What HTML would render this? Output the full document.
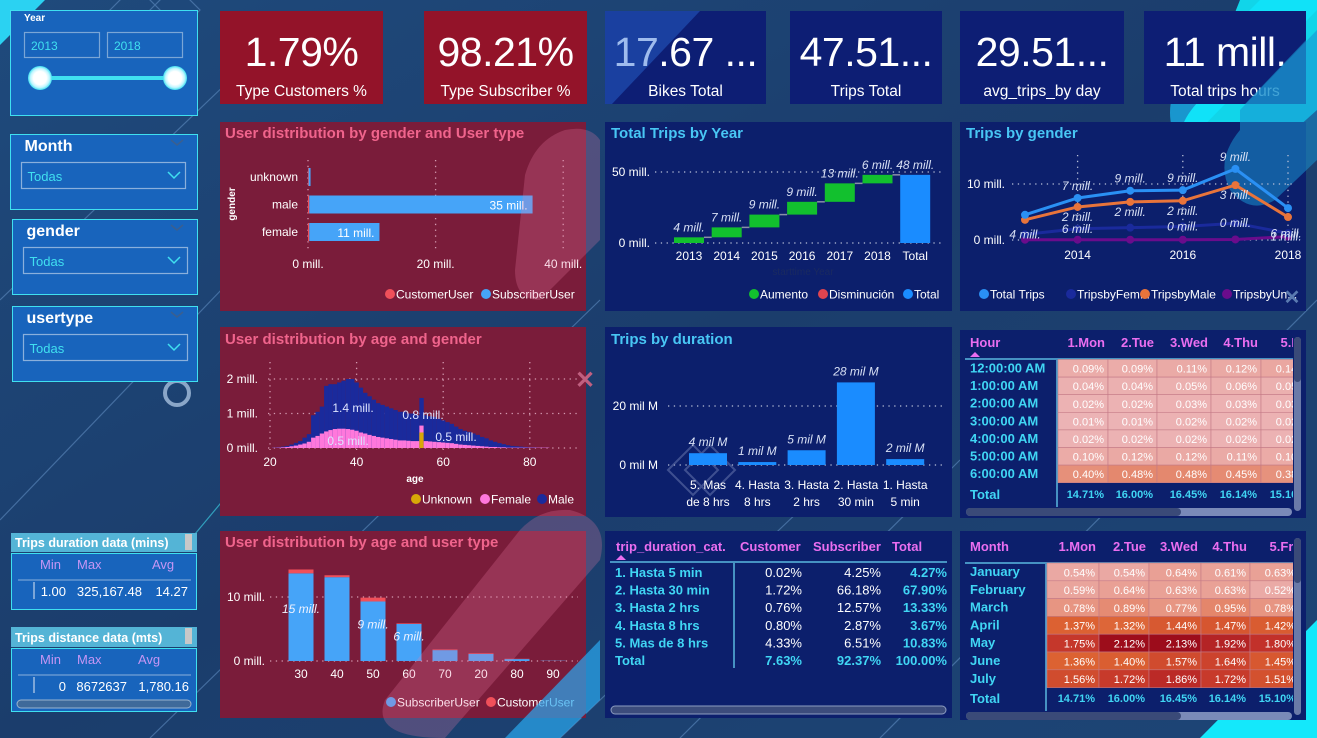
<!DOCTYPE html>
<html><head><meta charset="utf-8">
<style>
html,body{margin:0;padding:0;width:1317px;height:738px;overflow:hidden;background:#1c4170;font-family:"Liberation Sans",sans-serif}
svg{position:absolute;left:0;top:0}
text{font-family:"Liberation Sans",sans-serif}
</style></head>
<body>
<svg id="main" width="1317" height="738" viewBox="0 0 1317 738" xmlns="http://www.w3.org/2000/svg">
<defs>
<linearGradient id="bg" x1="0" y1="0" x2="1" y2="1"><stop offset="0" stop-color="#1f4a7c"/><stop offset="0.5" stop-color="#1b3d6c"/><stop offset="1" stop-color="#1d4576"/></linearGradient>
<radialGradient id="knob"><stop offset="0.55" stop-color="#ffffff"/><stop offset="0.8" stop-color="#bff6ff"/><stop offset="1" stop-color="#3fe0f0"/></radialGradient>
</defs>
<rect width="1317" height="738" fill="url(#bg)"/>
<g stroke="#5f8cc0" stroke-width="1.2" opacity="0.6" fill="none">
<line x1="0" y1="300" x2="230" y2="80"/><line x1="0" y1="520" x2="250" y2="260"/><line x1="150" y1="738" x2="600" y2="300"/>
<line x1="560" y1="738" x2="800" y2="510"/><line x1="680" y1="738" x2="960" y2="460"/><line x1="880" y1="738" x2="1317" y2="300"/>
<line x1="190" y1="540" x2="240" y2="480" stroke="#40e0f0"/>
<path d="M110 10 L135 -15 L160 10 L135 35 Z M150 10 L175 -15 L200 10 L175 35 Z"/>
</g>
<polygon points="0,0 45,0 0,45" fill="#2bd2f2"/>
<path d="M1180 150 L1317 10 L1317 0 L1260 0 L1180 80 Q1160 110 1180 150 Z" fill="#19a0d8" opacity="0.9"/>
<path d="M1240 0 L1317 0 L1317 110 L1250 170 Q1215 190 1185 160 Q1170 130 1200 100 Z" fill="#0ff0ff" opacity="0.85"/>
<path d="M1317 620 L1317 738 L1200 738 Z" fill="#14e8fb"/>
<circle cx="177" cy="393" r="12" fill="none" stroke="#8aa6c8" stroke-width="4"/>

<g>
<rect x="10.5" y="10.5" width="187" height="105" fill="#1864bc" stroke="#3fe0f0"/>
<text x="24" y="21" fill="#fff" font-size="10" font-weight="bold">Year</text>
<rect x="24.5" y="32.5" width="75" height="25" fill="none" stroke="#7aa6d6" stroke-width="1.2"/>
<text x="31" y="50" fill="#40e0f0" font-size="12">2013</text>
<rect x="107.5" y="32.5" width="75" height="25" fill="none" stroke="#7aa6d6" stroke-width="1.2"/>
<text x="114" y="50" fill="#40e0f0" font-size="12">2018</text>
<line x1="40" y1="78" x2="175" y2="78" stroke="#40e0f0" stroke-width="4"/>
<circle cx="40" cy="78" r="12" fill="url(#knob)"/>
<circle cx="175" cy="78" r="12" fill="url(#knob)"/>
</g>
<g id="slicers"></g>

<g>
<rect x="11" y="533" width="186" height="19" fill="#54b4d6"/>
<rect x="185" y="534" width="7" height="16" fill="#c8c8c8"/>
<text x="15" y="547" fill="#fff" font-size="12.5" font-weight="bold">Trips duration data (mins)</text>
<rect x="11.5" y="553.5" width="185" height="56" fill="#1864bc" stroke="#3fe0f0"/>
<text x="40" y="569" fill="#c596f4" font-size="13">Min</text><text x="77" y="569" fill="#c596f4" font-size="13">Max</text><text x="152" y="569" fill="#c596f4" font-size="13">Avg</text>
<line x1="18" y1="580" x2="191" y2="580" stroke="#8ab0dc"/><line x1="34" y1="582" x2="34" y2="599" stroke="#dfe8f5"/>
<text x="66" y="596" fill="#fff" font-size="13" text-anchor="end">1.00</text><text x="142" y="596" fill="#fff" font-size="13" text-anchor="end">325,167.48</text><text x="188" y="596" fill="#fff" font-size="13" text-anchor="end">14.27</text>
</g>
<g>
<rect x="11" y="627" width="186" height="20" fill="#54b4d6"/>
<rect x="185" y="628" width="7" height="16" fill="#c8c8c8"/>
<text x="15" y="642" fill="#fff" font-size="12.5" font-weight="bold">Trips distance data (mts)</text>
<rect x="11.5" y="648.5" width="185" height="63" fill="#1864bc" stroke="#3fe0f0"/>
<text x="40" y="664" fill="#c596f4" font-size="13">Min</text><text x="77" y="664" fill="#c596f4" font-size="13">Max</text><text x="138" y="664" fill="#c596f4" font-size="13">Avg</text>
<line x1="18" y1="675" x2="191" y2="675" stroke="#8ab0dc"/><line x1="34" y1="677" x2="34" y2="693" stroke="#dfe8f5"/>
<text x="66" y="691" fill="#fff" font-size="13" text-anchor="end">0</text><text x="127" y="691" fill="#fff" font-size="13" text-anchor="end">8672637</text><text x="189" y="691" fill="#fff" font-size="13" text-anchor="end">1,780.16</text>
<rect x="17" y="700" width="174" height="8" rx="4" fill="#3f6a9a" stroke="#9ab4d0"/>
</g>

<g id="cards"></g>

<g>
<rect x="220" y="122" width="366" height="189" fill="#7a1c3a"/>
<rect x="220" y="327" width="366" height="189" fill="#7a1c3a"/>
<rect x="220" y="531" width="366" height="187" fill="#7a1c3a"/>
<rect x="605" y="122" width="347" height="189" fill="#0c1f6c"/>
<rect x="605" y="327" width="347" height="190" fill="#0c1f6c"/>
<rect x="605" y="531" width="347" height="187" fill="#0c1f6c"/>
<rect x="960" y="122" width="346" height="189" fill="#0c1f6c"/>
<rect x="960" y="330" width="346" height="188" fill="#0c1f6c"/>
<rect x="960" y="531" width="346" height="189" fill="#0c1f6c"/>
</g>
<path d="M1240 110 L1317 30 L1317 160 L1275 200 Q1250 215 1230 190 Q1215 160 1240 130 Z" fill="#1a8fd0" opacity="0.55"/>
<g fill="#ffffff" font-size="15" font-weight="bold">
<text x="225" y="138" fill="#f0648c">User distribution by gender and User type</text>
<text x="225" y="344" fill="#f0648c">User distribution by age and gender</text>
<text x="225" y="547" fill="#f0648c">User distribution by age and user type</text>
<text x="611" y="138" fill="#48c6f4">Total Trips by Year</text>
<text x="611" y="344" fill="#48c6f4">Trips by duration</text>
<text x="966" y="138" fill="#48c6f4">Trips by gender</text>
</g>
<g id="charts"></g>
<g id="tables"></g>
<path d="M540 300 L600 240 L600 140 Q590 125 565 130 Q535 140 525 175 L515 270 Q515 300 540 300 Z" fill="#f07aa8" opacity="0.25"/>
<path d="M445 738 L600 560 Q610 520 570 510 Q540 508 520 530 L385 700 Q370 738 445 738 Z" fill="#f07aa8" opacity="0.25"/>
<path d="M505 738 L600 640 L600 700 L560 738 Z" fill="#2aa8f0" opacity="0.7"/>
<text x="585" y="388" font-size="24" fill="#c06080" text-anchor="middle" font-weight="bold">✕</text>
<text x="1292" y="304" font-size="20" fill="#5a7ab0" text-anchor="middle" font-weight="bold">✕</text>
</svg>
<script>
const NS='http://www.w3.org/2000/svg';
function mk(parent,tag,attrs,txt){const e=document.createElementNS(NS,tag);for(const k in attrs)e.setAttribute(k,attrs[k]);if(txt!==undefined)e.textContent=txt;parent.appendChild(e);return e;}
const charts=document.getElementById('charts');

const slicerNames=['Month','gender','usertype'];
const slicerTops=[134,219,306];
const sl=document.getElementById('slicers');
slicerNames.forEach((n,i)=>{
  const g=mk(sl,'g',{});
  
  
  const t=slicerTops[i], l=i==0?10.5:12.5;
  mk(g,'rect',{x:l,y:t+0.5,width:197.5-l,height:75,fill:'#1864bc',stroke:'#3fe0f0'});
  mk(g,'text',{x:l+14,y:t+17,fill:'#fff','font-size':16,'font-weight':'bold'},n);
  mk(g,'path',{d:`M${171} ${t+6} l6 5 l6 -5`,stroke:'#3a5f90',fill:'none','stroke-width':1.5});
  const dd=mk(g,'rect',{x:l+11,y:t+28.5,width:164,height:26,fill:'none',stroke:'#8ab0dc','stroke-width':1.2});
  
  
  mk(g,'text',{x:l+17,y:t+47,fill:'#40e0f0','font-size':13},'Todas');
  mk(g,'path',{d:`M${168} ${t+38} l6 6 l6 -6`,stroke:'#40e0f0',fill:'none','stroke-width':1.5});
});

const cardValues=['1.79%','98.21%','17.67 ...','47.51...','29.51...','11 mill.'];
const cardLabels=['Type Customers %','Type Subscriber %','Bikes Total','Trips Total','avg_trips_by day','Total trips hours'];
const cardX=[220,424,605,790,960,1144];
const cardW=[163,163,161,152,164,162];
const cg=document.getElementById('cards');
cardValues.forEach((v,i)=>{
  const g=mk(cg,'g',{});
  
  
  mk(g,'rect',{x:cardX[i],y:11,width:cardW[i],height:93,fill:i<2?'#931329':'#0d1e74'});
  const cx=cardX[i]+cardW[i]/2;
  mk(g,'text',{x:cx,y:66,fill:'#fff','font-size':41,'text-anchor':'middle','letter-spacing':'-0.5'},v);
  mk(g,'text',{x:cx,y:96,fill:'#fff','font-size':15.5,'text-anchor':'middle'},cardLabels[i]);
});
mk(cg,'path',{d:'M605 11 L700 11 L612 104 L605 104 Z',fill:'#2a6ad8',opacity:0.45});
mk(cg,'path',{d:'M1245 104 L1306 40 L1306 104 Z',fill:'#1590c8',opacity:0.6});

function dotLine(g,x1,y1,x2,y2,c){mk(g,'line',{x1,y1,x2,y2,stroke:c||'#b9c0d8','stroke-width':1.3,'stroke-dasharray':'1.3 4.5'});}
function legend(g,items,y){items.forEach(it=>{mk(g,'circle',{cx:it[0],cy:y-4,r:5,fill:it[2]});mk(g,'text',{x:it[0]+6,y:y+0.5,fill:'#fff','font-size':12},it[1]);});}

const genderCats=['unknown','male','female'];
const subscriberByGender=[0.3,35,11];
const customerByGender=[0.1,0.2,0.2];
const genderValueLabels=['','35 mill.','11 mill.'];
const genderTicks=[0,20,40];
{
 const g=mk(charts,'g',{});
 
 
 const x=v=>308+v*6.38, y=i=>177+i*27.5;
 genderTicks.forEach(t=>{dotLine(g,x(t),160,x(t),250,'#d49ab0');const tl=mk(g,'text',{x:x(t),y:268,fill:'#fff','font-size':12,'text-anchor':'middle'},t+' mill.');});
 genderCats.forEach((c,i)=>{
  mk(g,'text',{x:298,y:y(i)+4,fill:'#fff','font-size':12,'text-anchor':'end'},c);
  const r1=mk(g,'rect',{x:x(0),y:y(i)-9,width:customerByGender[i]*6.38,height:18,fill:'#f0505a'});
  
  const r2=mk(g,'rect',{x:x(customerByGender[i]),y:y(i)-9,width:subscriberByGender[i]*6.38,height:18,fill:'#46a4f8'});
  
  if(genderValueLabels[i])mk(g,'text',{x:x(customerByGender[i]+subscriberByGender[i])-5,y:y(i)+5,fill:'#fff','font-size':12,'text-anchor':'end'},genderValueLabels[i]);
 });
 mk(g,'text',{x:0,y:0,fill:'#fff','font-size':10,'font-weight':'bold','text-anchor':'middle',transform:'translate(235,204) rotate(-90)'},'gender');
 legend(g,[[390,'CustomerUser','#f0505a'],[486,'SubscriberUser','#46a4f8']],298);
}

const yearCats=['2013','2014','2015','2016','2017','2018'];
const yearIncrements=[4,7,9,9,13,6];
const yearLabels=['4 mill.','7 mill.','9 mill.','9 mill.','13 mill.','6 mill.'];
const totalLabel='48 mill.';
const yearTicks=[0,50];
{
 const g=mk(charts,'g',{});
 
 
 const y=v=>243-v*1.42, cx=i=>689+i*37.7, w=30;
 yearTicks.forEach(t=>{dotLine(g,655,y(t),945,y(t));mk(g,'text',{x:650,y:y(t)+4,fill:'#fff','font-size':12,'text-anchor':'end'},t+' mill.');});
 let cum=0;
 yearCats.forEach((c,i)=>{
  const a=cum,b=cum+yearIncrements[i];
  const r=mk(g,'rect',{x:cx(i)-w/2,y:y(b),width:w,height:y(a)-y(b),fill:'#12c02e'});
  
  mk(g,'line',{x1:cx(i)+w/2,y1:y(b),x2:cx(i+1)-w/2,y2:y(b),stroke:'#8a8fa8','stroke-width':1.5});
  mk(g,'text',{x:cx(i),y:y(b)-6,fill:'#d8e0f4','font-size':12,'font-style':'italic','text-anchor':'middle'},yearLabels[i]);
  mk(g,'text',{x:cx(i),y:260,fill:'#fff','font-size':12,'text-anchor':'middle'},c);
  cum=b;
 });
 const n=yearCats.length;
 const tr=mk(g,'rect',{x:cx(n)-w/2,y:y(cum),width:w,height:y(0)-y(cum),fill:'#1a8cff'});
 
 mk(g,'text',{x:cx(n),y:y(cum)-6,fill:'#d8e0f4','font-size':12,'font-style':'italic','text-anchor':'middle'},totalLabel);
 mk(g,'text',{x:cx(n),y:260,fill:'#fff','font-size':12,'text-anchor':'middle'},'Total');
 mk(g,'text',{x:803,y:275,fill:'#1a2a60','font-size':10,'text-anchor':'middle'},'starttime Year');
 legend(g,[[754,'Aumento','#12c02e'],[823,'Disminución','#e0444f'],[908,'Total','#1a8cff']],298);
}

const lineYears=[2013,2014,2015,2016,2017,2018];
const totalTrips=[4.5,7.5,8.8,8.9,12.7,5.7];
const maleTrips=[3.6,5.9,6.8,7.0,9.8,4.1];
const femaleTrips=[1.0,2.0,2.2,2.4,3.0,1.2];
const unknownTrips=[0.05,0.05,0.05,0.05,0.1,0.6];
const totalTripLabels=['','7 mill.','9 mill.','9 mill.','9 mill.',''];
const maleTripLabels=['','2 mill.','2 mill.','2 mill.','3 mill.',''];
const femaleTripLabels=['4 mill.','6 mill.','','0 mill.','0 mill.','6 mill.'];
const unknownTripLabels=['','','','','','1 mill.'];
const genderLineTicks=[0,10];
{
 const g=mk(charts,'g',{});
 
 
 const x=i=>1025+i*52.6, y=v=>240-v*5.6;
 genderLineTicks.forEach(t=>{dotLine(g,1012,y(t),1295,y(t));mk(g,'text',{x:1005,y:y(t)+4,fill:'#fff','font-size':12,'text-anchor':'end'},t+' mill.');});
 [1,3,5].forEach(i=>{dotLine(g,x(i),155,x(i),243);mk(g,'text',{x:x(i),y:259,fill:'#fff','font-size':12,'text-anchor':'middle'},lineYears[i]);});
 const series=[[unknownTrips,'#6a0c8c',unknownTripLabels,4,'unknown'],[femaleTrips,'#1a2a9c',femaleTripLabels,4,'female'],[maleTrips,'#e8743b',maleTripLabels,14,'male'],[totalTrips,'#2a90f4',totalTripLabels,-8,'total']];
 series.forEach(s=>{
  const pts=s[0].map((v,i)=>x(i)+','+y(v)).join(' ');
  const pl=mk(g,'polyline',{points:pts,fill:'none',stroke:s[1],'stroke-width':3});
  
  s[0].forEach((v,i)=>{mk(g,'circle',{cx:x(i),cy:y(v),r:4,fill:s[1]});});
 });
 series.forEach(s=>{s[0].forEach((v,i)=>{if(s[2][i])mk(g,'text',{x:x(i)+(i==5?-2:0),y:y(v)+s[3],fill:'#d8e0f4','font-size':12,'font-style':'italic','text-anchor':'middle'},s[2][i]);});});
 legend(g,[[984,'Total Trips','#2a90f4'],[1071,'TripsbyFem...','#1a2a9c'],[1145,'TripsbyMale','#e8743b'],[1227,'TripsbyUn...','#6a0c8c']],298);
}

const ageStart=21;
const totalByAge=[0.01,0.02,0.04,0.06,0.1,0.15,0.2,0.3,0.4,0.95,1.05,1.2,1.8,1.85,1.85,1.9,1.95,2.0,2.0,1.9,1.75,1.6,1.5,1.4,1.3,1.25,1.2,1.15,1.1,1.05,1.05,1.0,1.0,0.95,1.45,0.95,0.92,0.9,0.85,0.8,0.75,0.7,0.62,0.55,0.5,0.47,0.42,0.38,0.32,0.28,0.22,0.18,0.14,0.11,0.08,0.06,0.05,0.04,0.03,0.02,0.02,0.01,0.01,0.01];
const femaleByAge=[0.005,0.01,0.02,0.03,0.05,0.07,0.1,0.13,0.18,0.3,0.35,0.42,0.48,0.52,0.55,0.56,0.56,0.55,0.53,0.5,0.45,0.42,0.38,0.35,0.32,0.3,0.28,0.26,0.24,0.22,0.22,0.21,0.2,0.2,0.2,0.2,0.19,0.18,0.17,0.16,0.15,0.14,0.12,0.1,0.09,0.08,0.07,0.06,0.05,0.04,0.03,0.03,0.02,0.02,0.01,0.01,0.01,0.01,0.01,0.01,0.01,0.01,0.01,0.01];
const unknownAges=[55];
const unknownByAge=[0.45];
const ageTicks=[20,40,60,80];
const ageYTicks=[0,1,2];
{
 const g=mk(charts,'g',{});
 
 
 const x=a=>270+(a-20)*4.33, y=v=>448-v*34.5, bw=4.4;
 ageYTicks.forEach(t=>{dotLine(g,268,y(t),578,y(t),'#d49ab0');mk(g,'text',{x:258,y:y(t)+4,fill:'#fff','font-size':12,'text-anchor':'end'},t+' mill.');});
 ageTicks.forEach(t=>{dotLine(g,x(t),362,x(t),450,'#d49ab0');mk(g,'text',{x:x(t),y:466,fill:'#fff','font-size':12,'text-anchor':'middle'},t);});
 const unk=a=>{const k=unknownAges.indexOf(a);return k<0?0:unknownByAge[k];};
 totalByAge.forEach((v,i)=>{
  const a=ageStart+i;
  const r=mk(g,'rect',{x:x(a)-bw/2,y:y(v),width:bw,height:y(0)-y(v),fill:'#1a2a9c'});
  
  const f=femaleByAge[i]+unk(a);
  mk(g,'rect',{x:x(a)-bw/2,y:y(f),width:bw,height:y(0)-y(f),fill:'#ff78dc'});
  if(unk(a))mk(g,'rect',{x:x(a)-bw/2,y:y(unk(a)),width:bw,height:y(0)-y(unk(a)),fill:'#d8a808'});
 });
 [['1.4 mill.',353,412],['0.8 mill.',423,419],['0.5 mill.',348,445],['0.5 mill.',456,441]].forEach(l=>mk(g,'text',{x:l[1],y:l[2],fill:'#dde4ff','font-size':12,'text-anchor':'middle'},l[0]));
 mk(g,'text',{x:415,y:482,fill:'#fff','font-size':10,'font-weight':'bold','text-anchor':'middle'},'age');
 legend(g,[[416,'Unknown','#d8a808'],[485,'Female','#ff78dc'],[542,'Male','#1a2a9c']],503);
}

const durCats=[['5. Mas','de 8 hrs'],['4. Hasta','8 hrs'],['3. Hasta','2 hrs'],['2. Hasta','30 min'],['1. Hasta','5 min']];
const durValues=[4,1,5,28,2];
const durLabels=['4 mil M','1 mil M','5 mil M','28 mil M','2 mil M'];
const durTicks=[0,20];
{
 const g=mk(charts,'g',{});
 
 
 const cx=i=>708+i*49.3, y=v=>465-v*2.95, w=38;
 durTicks.forEach(t=>{dotLine(g,668,y(t),945,y(t));mk(g,'text',{x:658,y:y(t)+4,fill:'#fff','font-size':12,'text-anchor':'end'},t+' mil M');});
 mk(g,'path',{d:'M668 470 l25 -25 l25 25 l-25 25 Z M685 470 l25 -25 l25 25 l-25 25 Z',fill:'none',stroke:'#6070a8','stroke-width':2,opacity:0.6});
 durValues.forEach((v,i)=>{
  const r=mk(g,'rect',{x:cx(i)-w/2,y:y(v),width:w,height:y(0)-y(v),fill:'#1a8cff'});
  
  mk(g,'text',{x:cx(i),y:y(v)-7,fill:'#d8e0f4','font-size':12,'font-style':'italic','text-anchor':'middle'},durLabels[i]);
  mk(g,'text',{x:cx(i),y:489,fill:'#fff','font-size':12,'text-anchor':'middle'},durCats[i][0]);
  mk(g,'text',{x:cx(i),y:506,fill:'#fff','font-size':12,'text-anchor':'middle'},durCats[i][1]);
 });
}

const ageBinCats=['30','40','50','60','70','20','80','90'];
const subscriberByAgeBin=[13.7,13.1,9.3,5.8,1.7,1.1,0.3,0.05];
const customerByAgeBin=[0.6,0.3,0.6,0.1,0.1,0.1,0.05,0.01];
const ageBinLabels=['15 mill.','','9 mill.','6 mill.','','','',''];
const ageBinTicks=[0,10];
{
 const g=mk(charts,'g',{});
 
 
 const cx=i=>301+i*36, y=v=>661-v*6.4, w=25;
 ageBinTicks.forEach(t=>{dotLine(g,270,y(t),578,y(t),'#d49ab0');mk(g,'text',{x:265,y:y(t)+4,fill:'#fff','font-size':12,'text-anchor':'end'},t+' mill.');});
 ageBinCats.forEach((c,i)=>{
  const s=subscriberByAgeBin[i], cu=customerByAgeBin[i];
  const r=mk(g,'rect',{x:cx(i)-w/2,y:y(s),width:w,height:y(0)-y(s),fill:'#46a4f8'});
  
  const r2=mk(g,'rect',{x:cx(i)-w/2,y:y(s+cu),width:w,height:y(s)-y(s+cu),fill:'#f0505a'});
  
  if(ageBinLabels[i])mk(g,'text',{x:cx(i),y:y(s*0.55),fill:'#eef2ff','font-size':12,'font-style':'italic','text-anchor':'middle'},ageBinLabels[i]);
  mk(g,'text',{x:cx(i),y:678,fill:'#fff','font-size':12,'text-anchor':'middle'},c);
 });
 legend(g,[[391,'SubscriberUser','#46a4f8'],[491,'CustomerUser','#f0505a']],706);
}

const tb=document.getElementById('tables');
const durRows=['1. Hasta 5 min','2. Hasta 30 min','3. Hasta 2 hrs','4. Hasta 8 hrs','5. Mas de 8 hrs','Total'];
const durCustomer=['0.02%','1.72%','0.76%','0.80%','4.33%','7.63%'];
const durSubscriber=['4.25%','66.18%','12.57%','2.87%','6.51%','92.37%'];
const durTotal=['4.27%','67.90%','13.33%','3.67%','10.83%','100.00%'];
{
 const g=mk(tb,'g',{});
 
 
 const hs={fill:'#ea6ef0','font-size':13,'font-weight':'bold'};
 mk(g,'text',Object.assign({x:616,y:551},hs),'trip_duration_cat.');
 mk(g,'text',Object.assign({x:740,y:551},hs),'Customer');
 mk(g,'text',Object.assign({x:813,y:551},hs),'Subscriber');
 mk(g,'text',Object.assign({x:892,y:551},hs),'Total');
 mk(g,'path',{d:'M616 560 l5 -5 l5 5 Z',fill:'#ea6ef0'});
 mk(g,'line',{x1:610,y1:562,x2:947,y2:562,stroke:'#5ab8e0','stroke-width':1.5});
 mk(g,'line',{x1:734,y1:563,x2:734,y2:668,stroke:'#5ab8e0','stroke-width':1.5});
 durRows.forEach((r,i)=>{
  const yy=577+i*17.6, last=i==durRows.length-1;
  mk(g,'text',{x:615,y:yy,fill:'#40d6f4','font-size':13,'font-weight':'bold'},r);
  mk(g,'text',{x:802,y:yy,fill:last?'#40d6f4':'#fff','font-size':13,'font-weight':last?'bold':'normal','text-anchor':'end'},durCustomer[i]);
  mk(g,'text',{x:881,y:yy,fill:last?'#40d6f4':'#fff','font-size':13,'font-weight':last?'bold':'normal','text-anchor':'end'},durSubscriber[i]);
  mk(g,'text',{x:947,y:yy,fill:'#40d6f4','font-size':13,'font-weight':'bold','text-anchor':'end'},durTotal[i]);
 });
 const sb=mk(g,'rect',{x:611,y:706,width:335,height:8,rx:4,fill:'#3c4c7c',stroke:'#8c9cc0'});
 
}

const stops=[[0,[236,180,182]],[0.25,[230,144,122]],[0.55,[220,98,50]],[0.8,[194,49,42]],[1,[154,10,26]]];
function heat(t){t=Math.max(0,Math.min(1,t));for(let k=1;k<stops.length;k++){if(t<=stops[k][0]){const a=stops[k-1],b=stops[k],f=(t-a[0])/(b[0]-a[0]);return 'rgb('+a[1].map((c,j)=>Math.round(c+(b[1][j]-c)*f)).join(',')+')';}}return 'rgb(154,10,26)';}
const dayCols=['1.Mon','2.Tue','3.Wed','4.Thu','5.Fri'];
const hourRows=['12:00:00 AM','1:00:00 AM','2:00:00 AM','3:00:00 AM','4:00:00 AM','5:00:00 AM','6:00:00 AM'];
const hourValues=[[0.09,0.09,0.11,0.12,0.14],[0.04,0.04,0.05,0.06,0.05],[0.02,0.02,0.03,0.03,0.03],[0.01,0.01,0.02,0.02,0.02],[0.02,0.02,0.02,0.02,0.02],[0.10,0.12,0.12,0.11,0.10],[0.40,0.48,0.48,0.45,0.38]];
const monthRows=['January','February','March','April','May','June','July'];
const monthValues=[[0.54,0.54,0.64,0.61,0.63],[0.59,0.64,0.63,0.63,0.52],[0.78,0.89,0.77,0.95,0.78],[1.37,1.32,1.44,1.47,1.42],[1.75,2.12,2.13,1.92,1.80],[1.36,1.40,1.57,1.64,1.45],[1.56,1.72,1.86,1.72,1.51]];
const dayTotals=['14.71%','16.00%','16.45%','16.14%','15.10%'];
function heatTable(name,hdr,rows,vals,top,colX,colW,rowY,rowH,hdrY,totY,tmin,tmax,sort){
 const g=mk(tb,'g',{});
 
 
 const clip=mk(g,'clipPath',{id:name+'-clip'});mk(clip,'rect',{x:960,y:top,width:333,height:200});
 const inner=mk(g,'g',{'clip-path':'url(#'+name+'-clip)'});
 mk(inner,'text',{x:970,y:hdrY,fill:'#ea6ef0','font-size':13,'font-weight':'bold'},hdr);
 if(sort)mk(inner,'path',{d:`M970 ${hdrY+10} l5 -5 l5 5 Z`,fill:'#ea6ef0'});
 mk(inner,'line',{x1:965,y1:hdrY+12,x2:1293,y2:hdrY+12,stroke:'#5ab8e0','stroke-width':1.5});
 mk(inner,'line',{x1:colX-1,y1:hdrY+13,x2:colX-1,y2:totY+8,stroke:'#5ab8e0','stroke-width':1.5});
 let hx=colX;
 dayCols.forEach((d,j)=>{mk(inner,'text',{x:hx+colW[j]-3,y:hdrY,fill:'#ea6ef0','font-size':13,'font-weight':'bold','text-anchor':'end'},d);hx+=colW[j];});
 rows.forEach((r,i)=>{
  const yy=rowY+i*rowH;
  mk(inner,'text',{x:970,y:yy+13,fill:'#40d6f4','font-size':13,'font-weight':'bold'},r);
  let cx=colX;
  vals[i].forEach((v,j)=>{
   const c=mk(inner,'rect',{x:cx,y:yy,width:colW[j],height:rowH,fill:heat((v-tmin)/(tmax-tmin)),stroke:'#c47a86','stroke-width':0.6});
   
   mk(inner,'text',{x:cx+colW[j]-4,y:yy+rowH-4.5,fill:'#fff','font-size':11,'text-anchor':'end'},v.toFixed(2)+'%');
   cx+=colW[j];
  });
 });
 mk(inner,'text',{x:970,y:totY,fill:'#40d6f4','font-size':13,'font-weight':'bold'},'Total');
 let cx=colX;
 dayTotals.forEach((t,j)=>{mk(inner,'text',{x:cx+colW[j]-4,y:totY-1,fill:'#40d6f4','font-size':11,'font-weight':'bold','text-anchor':'end'},t);cx+=colW[j];});
 const vs=mk(g,'rect',{x:1294,y:top+4,width:7,height:totY-top+8,rx:3.5,fill:'#6a7aa8'});
 
 mk(g,'rect',{x:1294,y:top+4,width:7,height:45,rx:3.5,fill:'#3a4a78'});
 const hsb=mk(g,'rect',{x:966,y:totY+9,width:326,height:8,rx:4,fill:'#7a8ab8'});
 
 mk(g,'rect',{x:966,y:totY+9,width:215,height:8,rx:4,fill:'#3a4a78'});
}
heatTable('hour-day-heat-table','Hour',hourRows,hourValues,333,1058,[50,49,54,50,50],359.5,17.6,347,499,0,1.6,true);
heatTable('month-day-heat-table','Month',monthRows,monthValues,534,1047,[52,50,52,49,50],563,17.8,551,703,0.4,2.15,false);
</script>
</body></html>
